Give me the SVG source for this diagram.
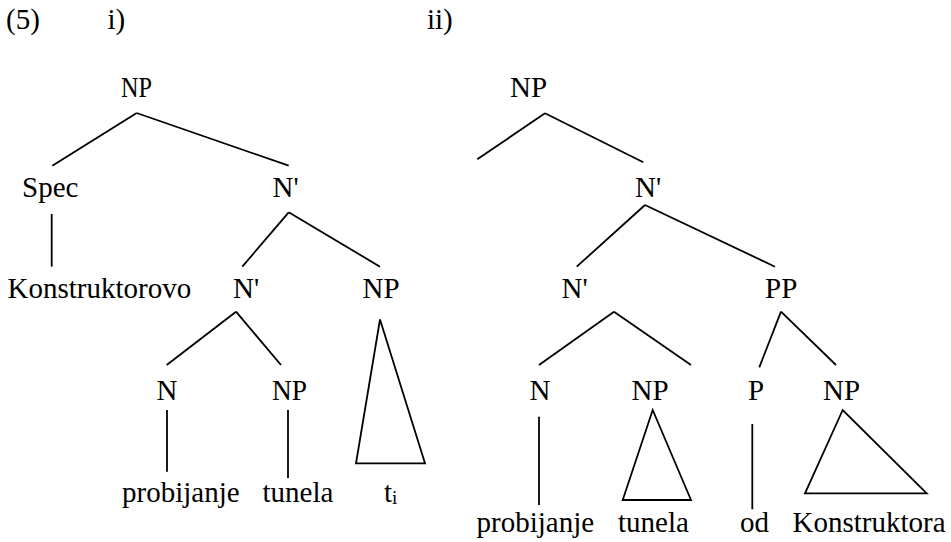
<svg xmlns="http://www.w3.org/2000/svg" width="951" height="542" viewBox="0 0 951 542">
<style>
text{font-family:'Liberation Serif',Tinos,'Times New Roman',Times,'DejaVu Serif',serif;font-size:29px;fill:#000}
.sub{font-size:19px}
#connectors line,#connectors polygon{stroke:#000;stroke-width:1.8;fill:none;stroke-linecap:butt}
</style>
<rect width="951" height="542" fill="#fff"/>
<g id="labels">
<text x="6" y="29">(5)</text>
<text x="107.5" y="29">i)</text>
<text x="427" y="29">ii)</text>
</g>
<g id="connectors">
<line x1="136.7" y1="113" x2="52.3" y2="165.7"/>
<line x1="136.7" y1="113" x2="288.7" y2="165.7"/>
<line x1="51.7" y1="214" x2="51.7" y2="266.7"/>
<line x1="288.7" y1="212.3" x2="242.3" y2="266.7"/>
<line x1="288.7" y1="212.3" x2="380" y2="266.7"/>
<line x1="236" y1="311.7" x2="166.7" y2="365"/>
<line x1="236" y1="311.7" x2="281" y2="365"/>
<line x1="167" y1="410" x2="167" y2="471.7"/>
<line x1="288" y1="410" x2="288" y2="478"/>
<polygon points="380,319.5 356,463.3 425,463.3"/>
<line x1="545" y1="113.3" x2="477.3" y2="159.3"/>
<line x1="545" y1="113.3" x2="643.3" y2="162.3"/>
<line x1="645" y1="205" x2="576.7" y2="266.7"/>
<line x1="645" y1="205" x2="775" y2="266.7"/>
<line x1="614" y1="311.7" x2="539" y2="365"/>
<line x1="614" y1="311.7" x2="691" y2="365"/>
<line x1="781" y1="311.7" x2="759.3" y2="367.3"/>
<line x1="781" y1="311.7" x2="836" y2="365"/>
<line x1="539" y1="416.7" x2="539" y2="505"/>
<polygon points="652.7,410 622.7,500 691,500"/>
<line x1="752.3" y1="424" x2="752.3" y2="509.3"/>
<polygon points="842.7,410 805,493.3 926.7,493.3"/>
</g>
<g id="tree1-np"><text x="121" y="96.5" textLength="31" lengthAdjust="spacingAndGlyphs">NP</text></g>
<g id="tree1-spec"><text x="22" y="196.5">Spec</text></g>
<g id="tree1-nbar1"><text x="272.5" y="196.5">N'</text></g>
<g id="tree1-konstruktorovo"><text x="7.5" y="298">Konstruktorovo</text></g>
<g id="tree1-nbar2"><text x="233" y="298">N'</text></g>
<g id="tree1-np-trace"><text x="362.5" y="298">NP</text></g>
<g id="tree1-n"><text x="156.5" y="399.5">N</text></g>
<g id="tree1-np2"><text x="272" y="399.5" textLength="35" lengthAdjust="spacingAndGlyphs">NP</text></g>
<g id="tree1-probijanje"><text x="122" y="502">probijanje</text></g>
<g id="tree1-tunela"><text x="262.5" y="502">tunela</text></g>
<g id="tree1-trace"><text x="384" y="502">t<tspan class="sub" dy="2">i</tspan></text></g>
<g id="tree2-np"><text x="510" y="96.5">NP</text></g>
<g id="tree2-nbar1"><text x="635" y="196.5">N'</text></g>
<g id="tree2-nbar2"><text x="561.5" y="298">N'</text></g>
<g id="tree2-pp"><text x="765" y="298">PP</text></g>
<g id="tree2-n"><text x="529.5" y="400">N</text></g>
<g id="tree2-np2"><text x="631.5" y="400">NP</text></g>
<g id="tree2-p"><text x="748" y="400">P</text></g>
<g id="tree2-np3"><text x="823" y="400">NP</text></g>
<g id="tree2-probijanje"><text x="476.5" y="531.5">probijanje</text></g>
<g id="tree2-tunela"><text x="618" y="531.5">tunela</text></g>
<g id="tree2-od"><text x="740" y="531.5">od</text></g>
<g id="tree2-konstruktora"><text x="792.5" y="531.5">Konstruktora</text></g>
</svg>
